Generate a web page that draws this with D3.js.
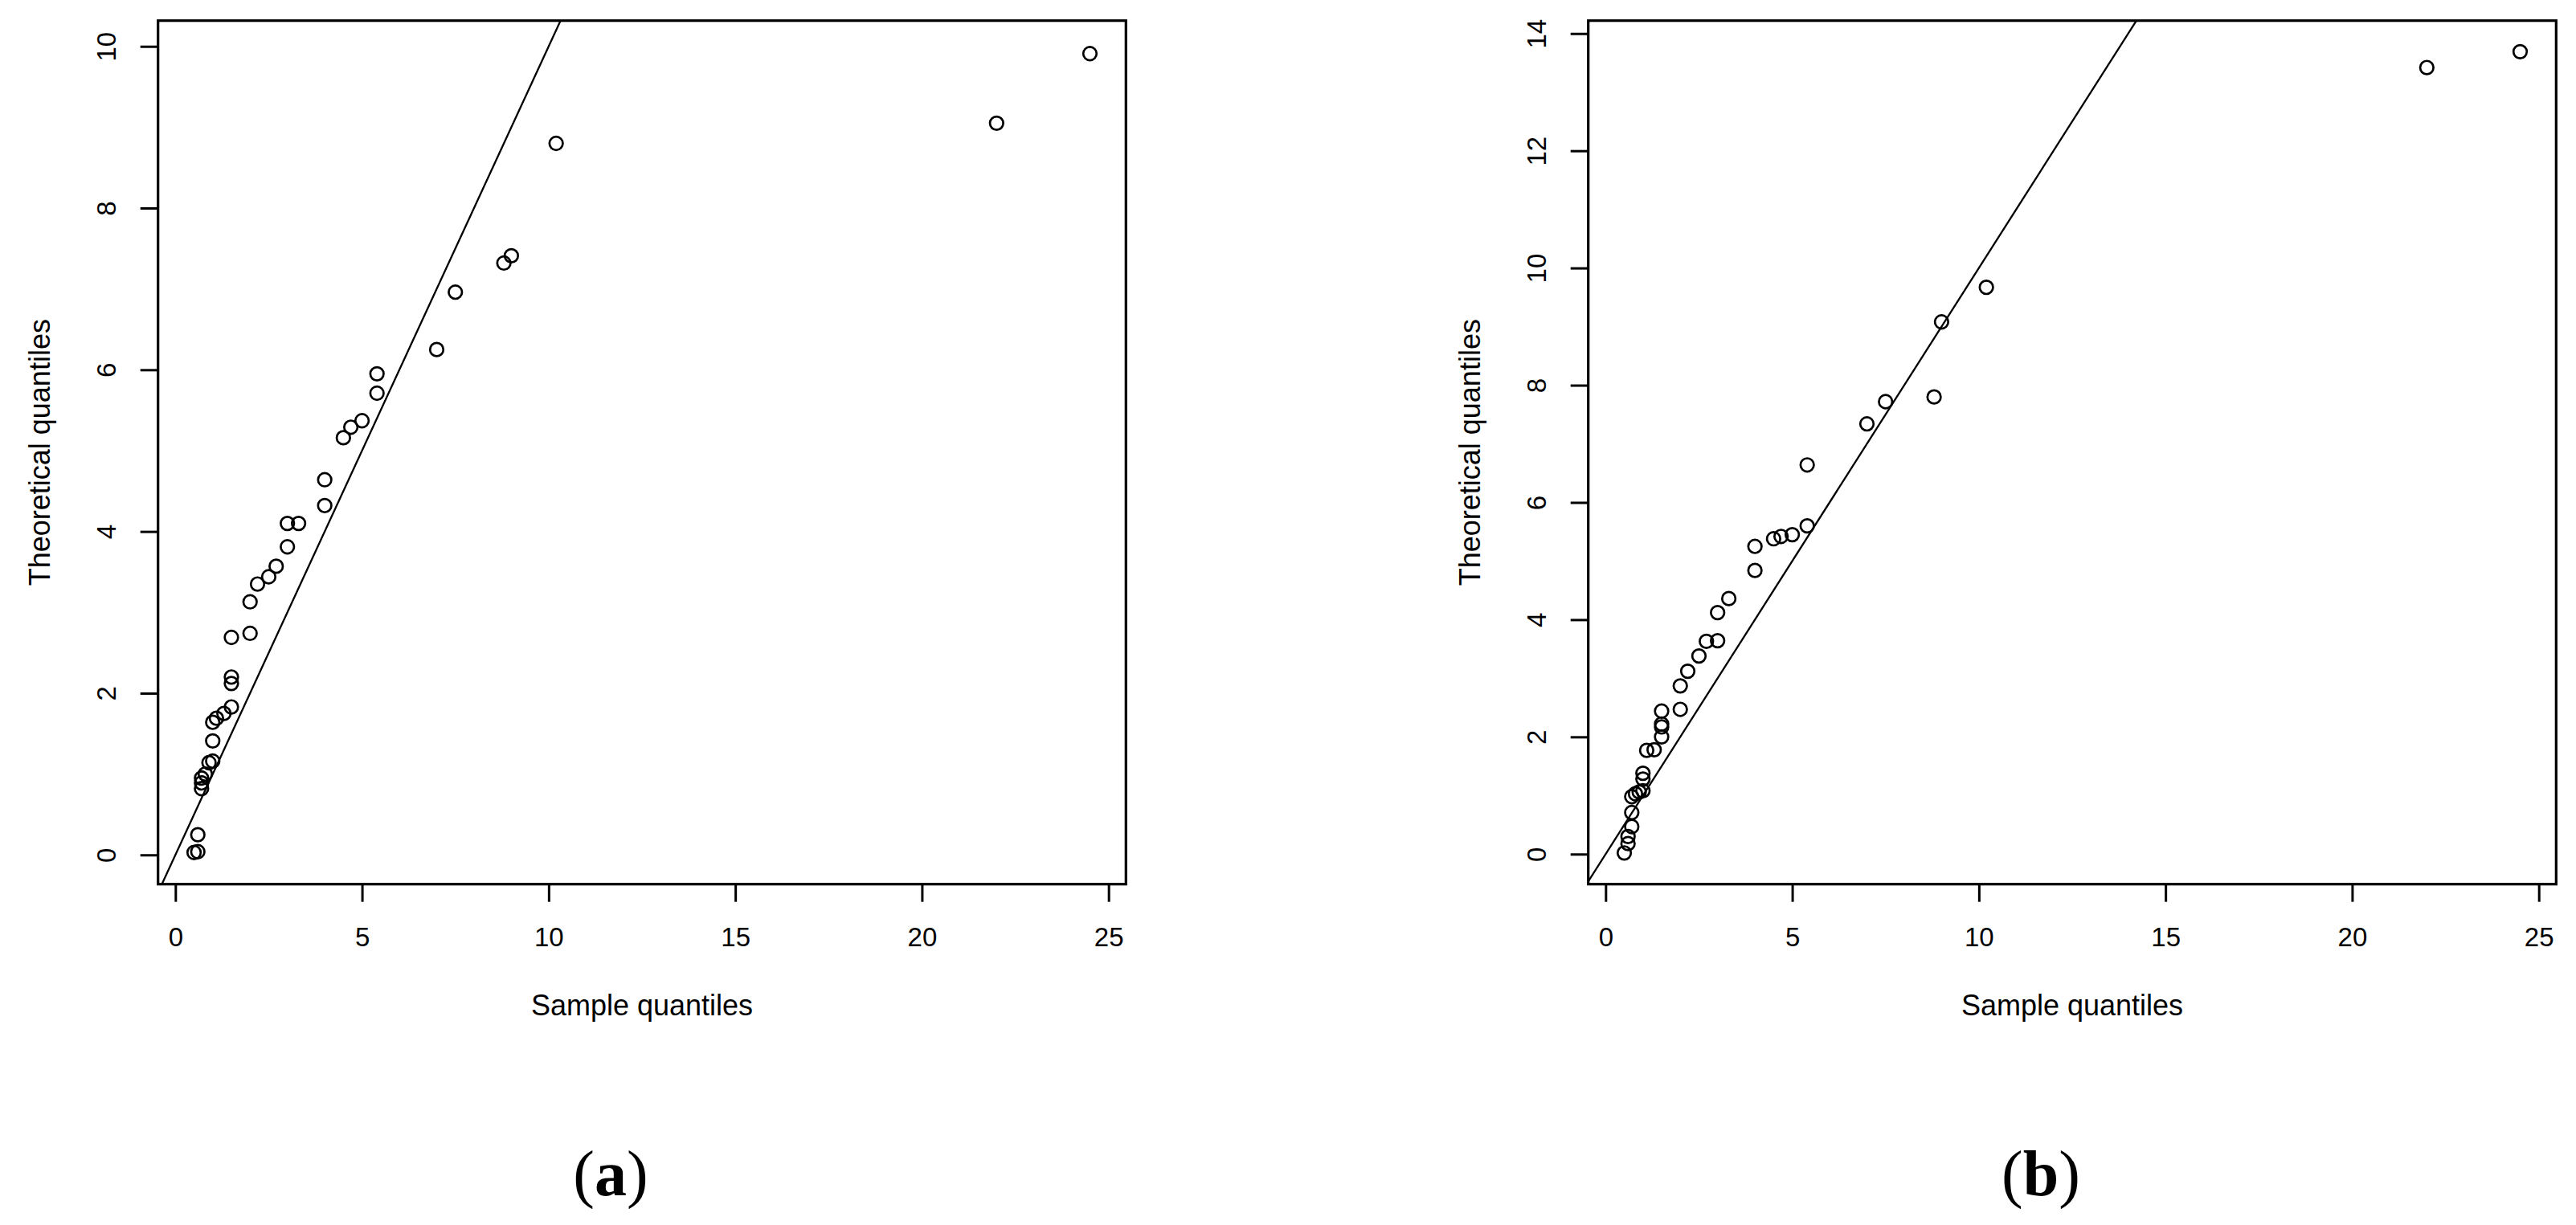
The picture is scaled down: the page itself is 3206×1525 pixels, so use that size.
<!DOCTYPE html>
<html>
<head>
<meta charset="utf-8">
<script src="https://cdn.jsdelivr.net/npm/d3@7"></script>
<style>
  html, body { margin: 0; padding: 0; background: #ffffff; }
  svg { display: block; }
</style>
</head>
<body>
<svg id="chart" width="3206" height="1525"></svg>
<script>
// ---------- data ----------
const sampleQuantiles = [0.5, 0.6, 0.6, 0.7, 0.7, 0.7, 0.8, 0.9, 1.0, 1.0, 1.0, 1.1, 1.3,
  1.5, 1.5, 1.5, 1.5, 2.0, 2.0, 2.2, 2.5, 2.7, 3.0, 3.0, 3.3, 4.0, 4.0, 4.5, 4.7, 5.0,
  5.4, 5.4, 7.0, 7.5, 8.8, 9.0, 10.2, 22.0, 24.5];

const theoreticalA = [0.03, 0.04, 0.25, 0.82, 0.89, 0.95, 1.00, 1.14, 1.16, 1.41, 1.64, 1.69, 1.75,
  1.83, 2.12, 2.20, 2.69, 2.74, 3.13, 3.35, 3.44, 3.57, 3.81, 4.10, 4.10, 4.32, 4.64, 5.16, 5.29, 5.37,
  5.71, 5.95, 6.25, 6.96, 7.32, 7.41, 8.80, 9.05, 9.91];

const theoreticalB = [0.02, 0.18, 0.30, 0.47, 0.71, 0.98, 1.03, 1.06, 1.08, 1.28, 1.38, 1.77, 1.78,
  2.00, 2.17, 2.22, 2.44, 2.47, 2.87, 3.12, 3.38, 3.63, 3.64, 4.12, 4.36, 4.84, 5.25, 5.38, 5.42, 5.45,
  5.60, 6.64, 7.34, 7.72, 7.80, 9.08, 9.67, 13.42, 13.69];

const xTicks = [0, 5, 10, 15, 20, 25];
const yTicksA = [0, 2, 4, 6, 8, 10];
const yTicksB = [0, 2, 4, 6, 8, 10, 12, 14];

const xLabel = "Sample quantiles";
const yLabel = "Theoretical quantiles";
const captions = ["a", "b"];

// ---------- layout ----------
const svg = d3.select("#chart");
svg.append("rect").attr("width", 3206).attr("height", 1525).attr("fill", "#fff");

const panels = [
  { left: 196.7, xDomain: [-0.465, 25.465], yDomain: [-0.362, 10.318], y: theoreticalA, yTicks: yTicksA, caption: captions[0], capX: 760 },
  { left: 1976.7, xDomain: [-0.465, 25.465], yDomain: [-0.513, 14.22], y: theoreticalB, yTicks: yTicksB, caption: captions[1], capX: 2540 }
];
const boxW = 1204.6, plotTop = 25.7, plotBottom = 1100.7;
const font = "'Liberation Sans', Arial, Helvetica, sans-serif";

panels.forEach((p, i) => {
  const x = d3.scaleLinear().domain(p.xDomain).range([p.left, p.left + boxW]);
  const y = d3.scaleLinear().domain(p.yDomain).range([plotBottom, plotTop]);

  const g = svg.append("g");
  const clipId = "clip" + i;
  svg.append("defs").append("clipPath").attr("id", clipId)
    .append("rect").attr("x", p.left).attr("y", plotTop).attr("width", boxW).attr("height", plotBottom - plotTop);

  // reference line y = x
  const lo = Math.min(p.xDomain[0], p.yDomain[0]);
  const hi = Math.max(p.xDomain[1], p.yDomain[1]);
  g.append("line")
    .attr("clip-path", `url(#${clipId})`)
    .attr("x1", x(lo)).attr("y1", y(lo))
    .attr("x2", x(hi)).attr("y2", y(hi))
    .attr("stroke", "#000").attr("stroke-width", 2.3);

  // points
  g.append("g").selectAll("circle")
    .data(sampleQuantiles.map((s, k) => [s, p.y[k]]))
    .join("circle")
    .attr("cx", d => x(d[0])).attr("cy", d => y(d[1]))
    .attr("r", 8.3)
    .attr("fill", "none").attr("stroke", "#000").attr("stroke-width", 2.7);

  // x axis
  const xa = g.append("g").attr("transform", `translate(0,${plotBottom})`)
    .call(d3.axisBottom(x).tickValues(xTicks).tickFormat(d3.format("d")).tickSize(22).tickSizeOuter(0));
  xa.select(".domain").remove();
  xa.selectAll(".tick line").attr("stroke", "#000").attr("stroke-width", 3);
  xa.selectAll(".tick text").attr("y", 77).attr("dy", null)
    .attr("font-family", font).attr("font-size", 33).attr("fill", "#000");

  // y axis
  const ya = g.append("g").attr("transform", `translate(${p.left},0)`)
    .call(d3.axisLeft(y).tickValues(p.yTicks).tickFormat(d3.format("d")).tickSize(22).tickSizeOuter(0));
  ya.select(".domain").remove();
  ya.selectAll(".tick line").attr("stroke", "#000").attr("stroke-width", 3);
  ya.selectAll(".tick text")
    .attr("x", 0).attr("y", -52.7).attr("dy", null)
    .attr("transform", "rotate(-90)")
    .attr("text-anchor", "middle")
    .attr("font-family", font).attr("font-size", 33).attr("fill", "#000");

  // box
  g.append("rect")
    .attr("x", p.left).attr("y", plotTop).attr("width", boxW).attr("height", plotBottom - plotTop)
    .attr("fill", "none").attr("stroke", "#000").attr("stroke-width", 3.2);

  // axis titles
  g.append("text")
    .attr("x", p.left + boxW / 2).attr("y", 1264)
    .attr("text-anchor", "middle")
    .attr("font-family", font).attr("font-size", 36).attr("fill", "#000")
    .text(xLabel);
  g.append("text")
    .attr("transform", `translate(${p.left - 135},${(plotTop + plotBottom) / 2}) rotate(-90)`)
    .attr("text-anchor", "middle")
    .attr("font-family", font).attr("font-size", 36).attr("fill", "#000")
    .text(yLabel);

  // caption: "(a)" with bold letter
  const cap = svg.append("text")
    .attr("x", p.capX).attr("y", 1488)
    .attr("text-anchor", "middle")
    .attr("font-family", "'Liberation Serif', 'Times New Roman', serif")
    .attr("font-size", 80)
    .attr("fill", "#000");
  cap.append("tspan").text("(");
  cap.append("tspan").attr("font-weight", "bold").text(p.caption);
  cap.append("tspan").text(")");
});
</script>
</body>
</html>
